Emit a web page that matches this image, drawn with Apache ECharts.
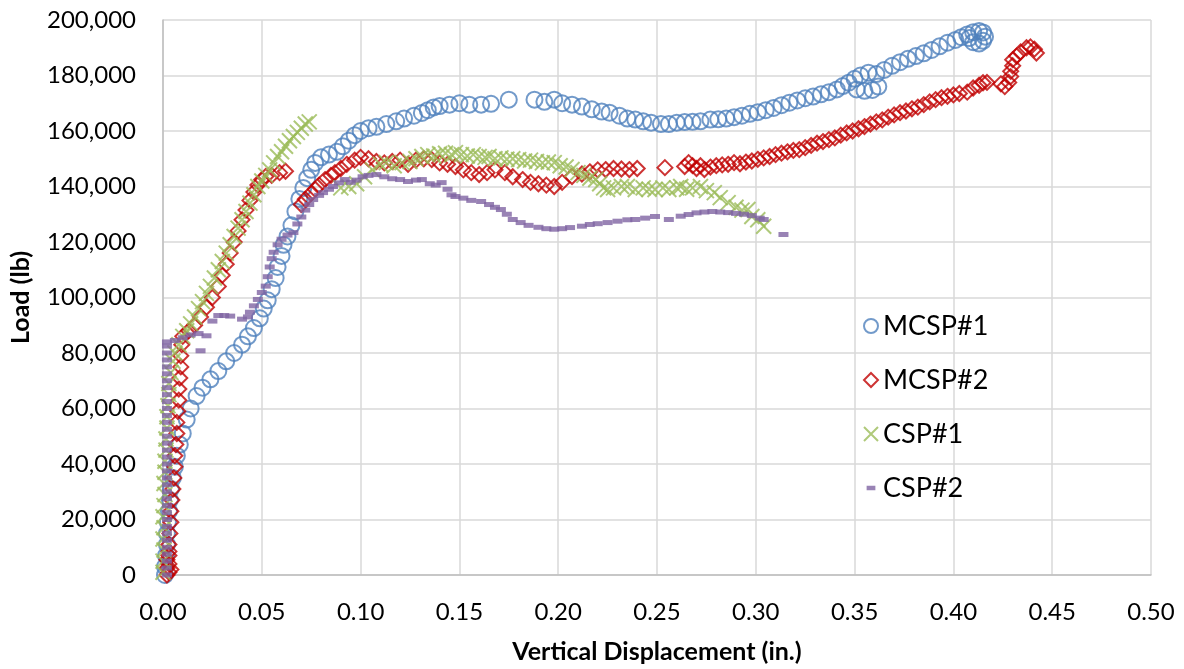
<!DOCTYPE html>
<html>
<head>
<meta charset="utf-8">
<script src="https://cdn.jsdelivr.net/npm/echarts@6/dist/echarts.min.js"></script>
<style>
  html, body { margin: 0; padding: 0; background: #fff; }
  #chart { width: 1184px; height: 669px; }
</style>
</head>
<body>
<div id="chart"></div>
<script>
// displacement (in.), load (lb)
var mcsp1 = [
  [0.001,0],[0.001,3000],[0.0015,7000],[0.002,11000],[0.002,15000],[0.0025,19000],[0.003,23000],[0.0035,27000],
  [0.004,31000],[0.005,35000],[0.006,39000],[0.007,43000],[0.0085,47000],[0.010,51000],[0.012,56000],[0.014,60000],
  [0.017,64500],[0.020,67500],[0.024,70500],[0.028,73500],[0.032,77000],[0.036,80000],[0.040,83000],[0.043,86000],
  [0.046,89000],[0.049,92500],[0.051,96000],[0.053,99000],[0.055,103000],[0.057,107000],[0.058,111000],[0.060,115000],
  [0.061,119000],[0.063,122000],[0.065,126000],[0.067,131000],[0.069,135500],[0.071,139500],[0.073,143000],[0.075,146000],
  [0.077,148500],[0.080,150500],[0.084,151500],[0.088,152500],[0.091,154500],[0.094,156500],[0.097,158500],[0.100,160000],
  [0.104,161000],[0.108,161500],[0.113,162500],[0.118,163500],[0.122,164500],[0.127,165500],[0.131,166500],[0.134,167500],
  [0.137,168500],[0.140,169000],[0.145,169500],[0.150,170000],[0.155,169500],[0.161,169500],[0.166,169800],[0.175,171300],
  [0.188,171300],[0.193,170500],[0.198,171300],[0.202,170000],[0.207,169500],[0.212,168800],[0.217,167800],[0.222,167000],
  [0.226,166600],[0.231,165500],[0.235,164500],[0.239,164100],[0.243,163500],[0.247,163000],[0.252,162500],[0.256,162500],
  [0.260,163000],[0.264,163200],[0.268,163300],[0.272,163500],[0.277,164100],[0.281,164200],[0.285,164500],[0.289,165000],
  [0.293,165500],[0.297,166200],[0.301,166800],[0.305,167500],[0.309,168300],[0.313,169300],[0.317,170200],[0.321,171000],
  [0.325,171800],[0.329,172400],[0.333,173200],[0.337,174000],[0.341,175000],[0.344,176200],[0.347,177400],[0.350,178800],
  [0.353,180000],[0.357,181000],[0.351,175000],[0.355,174500],[0.359,174800],[0.362,176000],[0.361,180500],[0.365,182000],
  [0.369,183500],[0.373,184800],[0.377,186000],[0.381,187000],[0.385,188000],[0.389,189200],[0.393,190500],[0.397,191800],
  [0.401,192800],[0.404,193800],[0.407,194800],[0.410,195600],[0.413,196000],[0.415,195500],[0.416,194000],[0.415,192500],
  [0.413,191500],[0.410,192000],[0.408,193500]
];
var mcsp2 = [
  [0.002,0],[0.003,1000],[0.004,2000],[0.002,2500],[0.003,4000],[0.002,5500],[0.003,7000],[0.003,8500],
  [0.003,11000],[0.0035,15000],[0.004,19000],[0.004,23000],[0.0045,27000],[0.005,31000],[0.0055,35000],[0.006,39000],
  [0.006,43000],[0.0065,47000],[0.007,51000],[0.007,55000],[0.0075,59000],[0.008,63000],[0.008,67000],[0.0085,71000],
  [0.009,75000],[0.009,79000],[0.0095,83000],[0.010,86000],[0.013,88000],[0.016,90000],[0.019,93000],[0.022,96500],
  [0.025,100000],[0.028,104000],[0.030,108000],[0.032,112000],[0.034,116000],[0.036,120000],[0.038,124000],[0.040,128000],
  [0.042,131500],[0.044,135000],[0.046,138000],[0.048,140500],[0.050,142500],[0.052,143600],[0.055,144000],[0.059,145000],
  [0.062,145500],
  [0.070,133500],[0.072,135400],[0.075,137500],[0.077,139000],[0.079,140500],[0.082,142500],[0.085,144000],[0.087,145000],
  [0.090,146500],[0.093,148000],[0.097,149500],[0.100,150500],[0.104,150000],[0.108,149000],[0.112,148500],[0.116,149000],
  [0.120,149500],[0.124,148000],[0.128,149500],[0.132,150000],[0.136,149700],[0.140,148500],[0.144,148000],[0.148,147200],
  [0.152,146000],[0.156,145000],[0.160,144300],[0.164,145000],[0.168,146000],[0.173,145000],[0.177,143500],[0.182,142500],
  [0.186,141500],[0.190,141000],[0.194,140500],[0.198,140000],[0.202,141500],[0.207,143600],[0.212,144500],[0.216,145300],
  [0.220,146000],[0.224,146100],[0.228,146500],[0.232,146300],[0.236,146100],[0.240,146500],[0.254,146800],[0.264,147200],
  [0.266,148600],[0.268,147500],[0.270,146500],[0.272,147500],[0.274,146100],[0.277,147000],[0.280,147500],[0.283,147800],
  [0.286,148000],[0.289,148600],[0.292,148200],[0.295,148800],[0.298,149200],[0.301,149800],[0.304,150300],[0.307,150800],
  [0.310,151500],[0.313,152000],[0.316,152500],[0.319,153000],[0.322,153300],[0.325,154000],[0.328,154800],[0.331,155600],
  [0.334,156200],[0.337,156900],[0.340,157500],[0.343,158500],[0.346,159300],[0.349,160000],[0.352,160800],[0.355,161600],
  [0.358,162500],[0.361,163300],[0.364,164000],[0.367,165000],[0.370,165800],[0.373,166600],[0.376,167200],[0.379,168000],
  [0.382,168600],[0.385,169500],[0.388,170500],[0.391,171300],[0.394,172000],[0.397,172500],[0.400,173000],[0.403,173500],
  [0.407,174000],[0.410,175500],[0.413,176500],[0.415,177400],[0.417,177500],[0.424,177000],[0.426,176000],[0.428,177500],
  [0.429,179600],[0.429,181500],[0.430,183500],[0.430,185700],[0.432,187000],[0.434,188500],[0.437,190000],[0.439,190300],
  [0.441,189500],[0.442,188100]
];
var csp1 = [
  [0.000,1000],[0.000,5000],[0.0005,9000],[0.000,13000],[0.0005,17000],[0.000,21000],[0.0005,25000],[0.001,29000],
  [0.0005,33000],[0.001,37000],[0.001,41000],[0.0015,45000],[0.0015,49000],[0.002,53000],[0.002,57000],[0.0025,61000],
  [0.003,65000],[0.003,69000],[0.004,73000],[0.005,77000],[0.006,80000],[0.008,83000],[0.010,86000],[0.012,88000],
  [0.014,90500],[0.016,93000],[0.018,96000],[0.020,98500],[0.022,101500],[0.024,104000],[0.026,107000],[0.028,110000],
  [0.030,113000],[0.032,116000],[0.034,119000],[0.036,122000],[0.038,125000],[0.040,128000],[0.042,131000],[0.044,134000],
  [0.046,137000],[0.048,140000],[0.050,142000],[0.052,144000],[0.054,146000],[0.056,148500],[0.058,150800],[0.060,152500],
  [0.062,154500],[0.064,156500],[0.066,158000],[0.068,159500],[0.070,161000],[0.072,162500],[0.074,163300],
  [0.090,139500],[0.094,140000],[0.098,141000],[0.102,143500],[0.106,146000],[0.110,148000],[0.113,148600],[0.117,147500],
  [0.121,148600],[0.125,149000],[0.128,150000],[0.131,150800],[0.134,151500],[0.137,151000],[0.140,151800],[0.143,152000],
  [0.146,151500],[0.148,152200],[0.151,151500],[0.154,151000],[0.157,151500],[0.160,150800],[0.163,150500],[0.165,150800],
  [0.168,150000],[0.171,150300],[0.174,149800],[0.177,150000],[0.180,149700],[0.183,149200],[0.186,149500],[0.189,149000],
  [0.192,148500],[0.195,148800],[0.198,148600],[0.201,147500],[0.204,147000],[0.207,146100],[0.210,145000],[0.213,144000],
  [0.216,143000],[0.219,142500],[0.221,141000],[0.223,139500],[0.225,138900],[0.228,139500],[0.232,140000],[0.235,140000],
  [0.239,138900],[0.243,139500],[0.246,139000],[0.249,138900],[0.253,139500],[0.256,138900],[0.260,139500],[0.262,140000],
  [0.265,139000],[0.268,139500],[0.272,140000],[0.275,138500],[0.279,137800],[0.282,136000],[0.286,134200],[0.290,132500],
  [0.293,131500],[0.296,131700],[0.298,129200],[0.301,128000],[0.304,125700]
];
var csp2 = [
  [0.002,0],[0.002,2500],[0.002,5000],[0.002,7500],[0.002,10000],[0.002,12500],[0.002,15000],[0.002,17500],
  [0.002,20000],[0.002,22500],[0.002,25000],[0.002,27500],[0.002,30000],[0.002,32500],[0.002,35000],[0.002,37500],
  [0.002,40000],[0.002,42500],[0.002,45000],[0.002,47500],[0.002,50000],[0.002,52500],[0.002,55000],[0.002,57500],
  [0.002,60000],[0.002,62500],[0.002,65000],[0.002,67500],[0.002,70000],[0.002,72500],[0.002,75000],[0.002,77500],
  [0.002,80000],[0.002,82500],[0.002,84000],
  [0.006,84500],[0.010,85500],[0.014,86500],[0.018,87000],[0.019,80800],[0.022,86200],[0.025,91500],[0.028,93500],
  [0.031,93500],[0.034,93300],[0.040,92200],[0.043,93000],[0.044,94700],[0.046,97000],[0.048,99300],[0.050,101800],
  [0.052,104100],[0.053,107500],[0.054,111000],[0.055,114000],[0.056,116300],[0.058,119000],[0.060,121000],[0.063,122500],
  [0.066,123400],[0.068,126500],[0.070,129000],[0.072,131500],[0.074,133500],[0.076,135300],[0.079,136800],[0.081,137800],
  [0.084,139000],[0.086,140000],[0.089,141300],[0.092,142500],[0.095,141500],[0.098,142300],[0.101,143500],[0.104,144000],
  [0.108,144300],[0.112,143500],[0.116,142800],[0.120,142500],[0.124,141800],[0.128,142300],[0.131,142500],[0.135,141000],
  [0.138,140500],[0.141,141400],[0.144,139000],[0.146,137000],[0.148,136400],[0.152,135800],[0.156,135000],[0.161,134600],
  [0.165,133500],[0.168,132500],[0.171,131700],[0.174,130000],[0.177,128100],[0.181,127000],[0.185,126000],[0.190,125300],
  [0.194,124800],[0.198,124600],[0.202,124800],[0.206,125200],[0.212,125700],[0.216,126300],[0.220,126600],[0.225,127000],
  [0.230,127500],[0.235,128000],[0.239,128100],[0.244,128600],[0.249,129200],[0.256,128100],[0.262,129300],[0.266,129900],
  [0.270,130500],[0.274,130800],[0.278,131000],[0.282,130800],[0.286,130600],[0.290,130300],[0.294,130000],[0.298,129500],
  [0.302,128600],[0.304,128100],[0.314,122700]
];
var seriesNames = ['MCSP#1', 'MCSP#2', 'CSP#1', 'CSP#2'];

var chart = echarts.init(document.getElementById('chart'));
var font = 'Lato, "Open Sans", sans-serif';
var xPath = 'path://M0,0L10,10M10,0L0,10';
// small dash centred in a square box, for the legend
var dashIcon = 'path://M0,0L0.01,0M16,16L15.99,16M3,5.5H13V10.5H3Z';

chart.setOption({
  animation: false,
  textStyle: { fontFamily: font },
  grid: { left: 160, top: 20, width: 991, height: 557, containLabel: false },
  legend: {
    orient: 'vertical',
    left: 858,
    top: 307,
    itemWidth: 14,
    itemHeight: 14,
    itemGap: 26,
    textStyle: { fontSize: 27, color: '#000', fontFamily: font, lineHeight: 28 },
    data: [
      { name: 'MCSP#1' },
      { name: 'MCSP#2' },
      { name: 'CSP#1' },
      { name: 'CSP#2', icon: dashIcon }
    ]
  },
  xAxis: {
    type: 'value',
    min: 0, max: 0.5, interval: 0.05,
    name: 'Vertical Displacement (in.)',
    nameLocation: 'middle',
    nameGap: 64,
    nameTextStyle: { fontSize: 25, fontWeight: 'bold', color: '#000', fontFamily: font },
    axisLine: { show: true, onZero: false, lineStyle: { color: '#bfbfbf', width: 1.5 } },
    axisTick: { show: false },
    axisLabel: { fontSize: 24, color: '#000', margin: 25, formatter: function (v) { return v.toFixed(2); } },
    splitLine: { show: true, lineStyle: { color: '#d9d9d9', width: 1.5 } }
  },
  yAxis: {
    type: 'value',
    min: 0, max: 200000, interval: 20000,
    name: 'Load (lb)',
    nameLocation: 'middle',
    nameGap: 130,
    nameTextStyle: { fontSize: 25, fontWeight: 'bold', color: '#000', fontFamily: font },
    axisLine: { show: true, lineStyle: { color: '#bfbfbf', width: 1.5 } },
    axisTick: { show: false },
    axisLabel: { fontSize: 24, color: '#000', margin: 27, formatter: function (v) { return v.toLocaleString('en-US'); } },
    splitLine: { show: true, lineStyle: { color: '#d9d9d9', width: 1.5 } }
  },
  series: [
    {
      name: seriesNames[0], type: 'scatter', data: mcsp1,
      symbol: 'circle', symbolSize: 16,
      itemStyle: { color: 'rgba(0,0,0,0)', borderColor: '#4f81bd', borderWidth: 2 }
    },
    {
      name: seriesNames[1], type: 'scatter', data: mcsp2,
      symbol: 'diamond', symbolSize: 15,
      itemStyle: { color: 'rgba(0,0,0,0)', borderColor: '#c00000', borderWidth: 2 }
    },
    {
      name: seriesNames[2], type: 'scatter', data: csp1,
      symbol: xPath, symbolSize: 15,
      itemStyle: { color: 'rgba(0,0,0,0)', borderColor: '#9bbb59', borderWidth: 2 }
    },
    {
      name: seriesNames[3], type: 'scatter', data: csp2,
      symbol: 'rect', symbolSize: [10, 5],
      itemStyle: { color: '#8064a2' }
    }
  ]
});
</script>
</body>
</html>
